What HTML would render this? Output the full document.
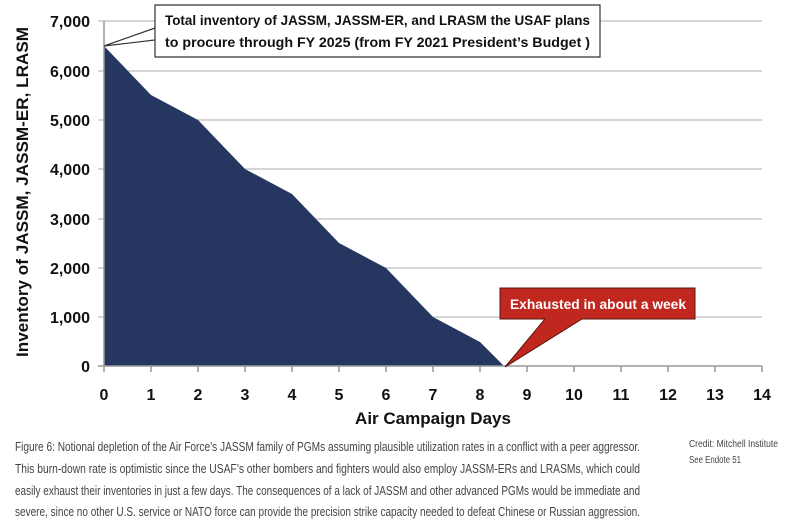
<!DOCTYPE html>
<html><head><style>body{margin:0;background:#fff}svg{display:block}</style></head>
<body>
<svg width="804" height="527" xmlns="http://www.w3.org/2000/svg" font-family="Liberation Sans, sans-serif">
<g stroke="#bdbdbd" stroke-width="1.2">
<line x1="98" y1="21" x2="762" y2="21"/><line x1="98" y1="71" x2="762" y2="71"/>
<line x1="98" y1="120" x2="762" y2="120"/><line x1="98" y1="169" x2="762" y2="169"/>
<line x1="98" y1="219" x2="762" y2="219"/><line x1="98" y1="268" x2="762" y2="268"/>
<line x1="98" y1="317" x2="762" y2="317"/>
</g>
<polygon fill="#253760" points="104,366 104,46 151,95 198,120 245,169 292,194 339,243 386,268 433,317 480,342 504,366"/>
<g stroke="#999" stroke-width="1.5">
<line x1="104" y1="21" x2="104" y2="372"/>
<line x1="98" y1="366" x2="762" y2="366"/>
<line x1="151" y1="366" x2="151" y2="372"/><line x1="198" y1="366" x2="198" y2="372"/><line x1="245" y1="366" x2="245" y2="372"/><line x1="292" y1="366" x2="292" y2="372"/><line x1="339" y1="366" x2="339" y2="372"/><line x1="386" y1="366" x2="386" y2="372"/><line x1="433" y1="366" x2="433" y2="372"/><line x1="480" y1="366" x2="480" y2="372"/><line x1="527" y1="366" x2="527" y2="372"/><line x1="574" y1="366" x2="574" y2="372"/><line x1="621" y1="366" x2="621" y2="372"/><line x1="668" y1="366" x2="668" y2="372"/><line x1="715" y1="366" x2="715" y2="372"/><line x1="762" y1="366" x2="762" y2="372"/>
</g>
<g font-size="16" font-weight="bold" fill="#111" text-anchor="end">
<text x="90" y="27">7,000</text><text x="90" y="77">6,000</text><text x="90" y="126">5,000</text><text x="90" y="175">4,000</text><text x="90" y="225">3,000</text><text x="90" y="274">2,000</text><text x="90" y="323">1,000</text><text x="90" y="372">0</text>
</g>
<g font-size="16" font-weight="bold" fill="#111" text-anchor="middle">
<text x="104" y="400">0</text><text x="151" y="400">1</text><text x="198" y="400">2</text><text x="245" y="400">3</text><text x="292" y="400">4</text><text x="339" y="400">5</text><text x="386" y="400">6</text><text x="433" y="400">7</text><text x="480" y="400">8</text><text x="527" y="400">9</text><text x="574" y="400">10</text><text x="621" y="400">11</text><text x="668" y="400">12</text><text x="715" y="400">13</text><text x="762" y="400">14</text>
<text x="433" y="424" font-size="17">Air Campaign Days</text>
<text transform="translate(28,192) rotate(-90)" font-size="17" textLength="330" lengthAdjust="spacingAndGlyphs">Inventory of JASSM, JASSM-ER, LRASM</text>
</g>
<path d="M155,5 H600 V57 H155 V28 L104,46 L155,40 Z" fill="#fff" stroke="#333" stroke-width="1.2"/>
<text x="165" y="25" font-size="14" font-weight="bold" fill="#111" textLength="425" lengthAdjust="spacingAndGlyphs">Total inventory of JASSM, JASSM-ER, and LRASM the USAF plans</text>
<text x="165" y="47" font-size="14" font-weight="bold" fill="#111" textLength="425" lengthAdjust="spacingAndGlyphs">to procure through FY 2025 (from FY 2021 President’s Budget )</text>
<path d="M500,288 H695 V319 H582 L505,367 L545,319 H500 Z" fill="#c0271e" stroke="#5a1410" stroke-width="1"/>
<text x="510" y="309" font-size="14" font-weight="bold" fill="#fff" textLength="176" lengthAdjust="spacingAndGlyphs">Exhausted in about a week</text>
<g font-size="13" fill="#444">
<text x="15" y="451" textLength="625" lengthAdjust="spacingAndGlyphs">Figure 6: Notional depletion of the Air Force’s JASSM family of PGMs assuming plausible utilization rates in a conflict with a peer aggressor.</text>
<text x="15" y="473" textLength="625" lengthAdjust="spacingAndGlyphs">This burn-down rate is optimistic since the USAF’s other bombers and fighters would also employ JASSM-ERs and LRASMs, which could</text>
<text x="15" y="495" textLength="625" lengthAdjust="spacingAndGlyphs">easily exhaust their inventories in just a few days. The consequences of a lack of JASSM and other advanced PGMs would be immediate and</text>
<text x="15" y="516" textLength="625" lengthAdjust="spacingAndGlyphs">severe, since no other U.S. service or NATO force can provide the precision strike capacity needed to defeat Chinese or Russian aggression.</text>
</g>
<g font-size="10" fill="#444">
<text x="689" y="447" textLength="89" lengthAdjust="spacingAndGlyphs">Credit: Mitchell Institute</text>
<text x="689" y="463" textLength="52" lengthAdjust="spacingAndGlyphs">See Endote 51</text>
</g>
</svg>
</body></html>
